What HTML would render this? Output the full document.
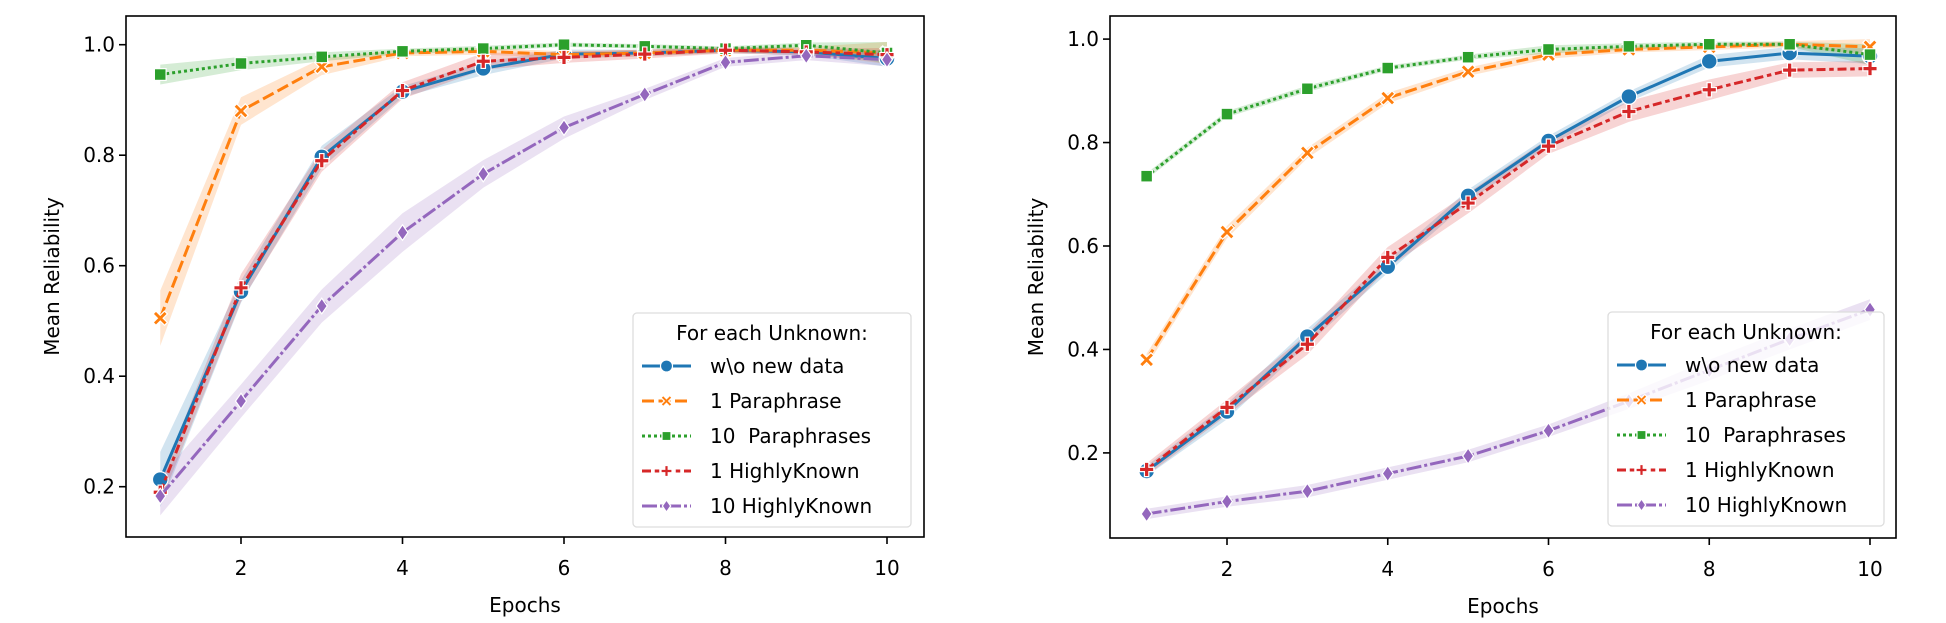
<!DOCTYPE html>
<html><head><meta charset="utf-8"><style>
body{margin:0;background:#fff;}
svg{display:block;font-family:"DejaVu Sans","Liberation Sans",sans-serif;}
text{white-space:pre;}
</style></head><body>
<svg id="s" width="1946" height="623" xmlns="http://www.w3.org/2000/svg"></svg>
<script>
const C=['#1f77b4','#ff7f0e','#2ca02c','#d62728','#9467bd'];
const DASH=['', '12,4.5','3,3','9,3.75,4.5,3.75','15,3,3,3'];
const names=['w\\o new data','1 Paraphrase','10\u00a0 Paraphrases','1 HighlyKnown','10 HighlyKnown'];
const L={fx0:126,fx1:924,fy0:16,fy1:537,x2:241,x10:887,y10:44.7,y02:486.7,leg:[633,911,313,527],ylab:52,
data:[[0.213,0.553,0.797,0.915,0.957,0.983,0.985,0.99,0.987,0.975],
[0.505,0.88,0.96,0.985,0.988,0.982,0.985,0.99,0.99,0.985],
[0.946,0.966,0.978,0.988,0.993,1.0,0.997,0.993,0.999,0.985],
[0.19,0.56,0.79,0.917,0.97,0.977,0.983,0.99,0.987,0.982],
[0.183,0.355,0.527,0.66,0.766,0.85,0.91,0.968,0.98,0.973]],
band:[[0.05,0.02,0.02,0.01,0.012,0.008,0.006,0.005,0.006,0.015],
[0.05,0.025,0.015,0.006,0.006,0.006,0.006,0.005,0.006,0.02],
[0.018,0.012,0.008,0.005,0.005,0.004,0.004,0.004,0.005,0.02],
[0.02,0.025,0.02,0.015,0.015,0.01,0.008,0.006,0.006,0.012],
[0.035,0.03,0.03,0.035,0.025,0.02,0.01,0.008,0.008,0.012]]};
const R={fx0:1110,fx1:1896,fy0:16,fy1:538,x2:1227,x10:1870,y10:39.1,y02:452.9,leg:[1608,1884,312,526],ylab:1036,
data:[[0.165,0.28,0.425,0.56,0.697,0.803,0.889,0.957,0.973,0.967],
[0.38,0.627,0.78,0.886,0.937,0.97,0.98,0.985,0.99,0.985],
[0.735,0.855,0.904,0.944,0.965,0.98,0.986,0.99,0.99,0.97],
[0.168,0.288,0.41,0.578,0.683,0.793,0.86,0.902,0.94,0.943],
[0.082,0.106,0.126,0.16,0.194,0.243,0.3,0.36,0.42,0.477]],
band:[[0.01,0.015,0.015,0.012,0.012,0.01,0.01,0.012,0.012,0.015],
[0.012,0.012,0.01,0.01,0.008,0.008,0.006,0.006,0.006,0.015],
[0.006,0.006,0.006,0.005,0.005,0.008,0.006,0.005,0.005,0.02],
[0.012,0.015,0.02,0.02,0.02,0.015,0.02,0.02,0.015,0.015],
[0.01,0.01,0.012,0.012,0.012,0.012,0.015,0.02,0.02,0.02]]};
function marker(i,x,y,s){
 const st=`fill="${C[i]}" stroke="#fff" stroke-width="1.2"`;
 if(i==0)return `<circle cx="${x}" cy="${y}" r="${s*0.6}" ${st}/>`;
 if(i==1){const a=s*0.55,w=s*0.22;return `<path d="M${x-a} ${y-a+w}L${x-a+w} ${y-a}L${x} ${y-w}L${x+a-w} ${y-a}L${x+a} ${y-a+w}L${x+w} ${y}L${x+a} ${y+a-w}L${x+a-w} ${y+a}L${x} ${y+w}L${x-a+w} ${y+a}L${x-a} ${y+a-w}L${x-w} ${y}Z" ${st}/>`;}
 if(i==2){const a=s*0.45;return `<rect x="${x-a}" y="${y-a}" width="${2*a}" height="${2*a}" ${st}/>`;}
 if(i==3){const a=s*0.55,w=s*0.17;return `<path d="M${x-w} ${y-a}H${x+w}V${y-w}H${x+a}V${y+w}H${x+w}V${y+a}H${x-w}V${y+w}H${x-a}V${y-w}H${x-w}Z" ${st}/>`;}
 const a=s*0.6,b=s*0.42;return `<path d="M${x} ${y-a}L${x+b} ${y}L${x} ${y+a}L${x-b} ${y}Z" ${st}/>`;
}
function panel(P){
 const px=e=>P.x2+(e-2)*(P.x10-P.x2)/8;
 const py=v=>P.y02+(v-0.2)*(P.y10-P.y02)/0.8;
 let o='';
 o+=`<defs><clipPath id="c${P.fx0}"><rect x="${P.fx0}" y="${P.fy0}" width="${P.fx1-P.fx0}" height="${P.fy1-P.fy0}"/></clipPath></defs><g clip-path="url(#c${P.fx0})">`;
 for(let i=0;i<5;i++){
  let up=[],dn=[];
  for(let k=0;k<10;k++){up.push(px(k+1)+','+py(P.data[i][k]+P.band[i][k]));dn.unshift(px(k+1)+','+py(P.data[i][k]-P.band[i][k]));}
  o+=`<polygon points="${up.concat(dn).join(' ')}" fill="${C[i]}" fill-opacity="0.2"/>`;
 }
 for(let i=0;i<5;i++){
  const pts=P.data[i].map((v,k)=>px(k+1)+','+py(v)).join(' ');
  o+=`<polyline points="${pts}" fill="none" stroke="${C[i]}" stroke-width="3" ${DASH[i]?`stroke-dasharray="${DASH[i]}"`:''}/>`;
  P.data[i].forEach((v,k)=>{o+=marker(i,px(k+1),py(v),13);});
 }
 o+='</g>';
 o+=`<rect x="${P.fx0}" y="${P.fy0}" width="${P.fx1-P.fx0}" height="${P.fy1-P.fy0}" fill="none" stroke="#000" stroke-width="1.6"/>`;
 for(let e=2;e<=10;e+=2){const x=px(e);o+=`<line x1="${x}" y1="${P.fy1}" x2="${x}" y2="${P.fy1+7}" stroke="#000" stroke-width="1.6"/><text x="${x}" y="${P.fy1+38}" font-size="20" text-anchor="middle">${e}</text>`;}
 for(let v of [0.2,0.4,0.6,0.8,1.0]){const y=py(v);o+=`<line x1="${P.fx0-7}" y1="${y}" x2="${P.fx0}" y2="${y}" stroke="#000" stroke-width="1.6"/><text x="${P.fx0-11}" y="${y+7}" font-size="20" text-anchor="end">${v.toFixed(1)}</text>`;}
 o+=`<text x="${(P.fx0+P.fx1)/2}" y="${P.fy1+75}" font-size="20" text-anchor="middle">Epochs</text>`;
 o+=`<text transform="translate(${P.ylab+7},${(P.fy0+P.fy1)/2}) rotate(-90)" font-size="20" text-anchor="middle">Mean Reliability</text>`;
 const [l0,l1,t0,t1]=P.leg;
 o+=`<rect x="${l0}" y="${t0}" width="${l1-l0}" height="${t1-t0}" rx="4" fill="#fff" fill-opacity="0.8" stroke="#ddd" stroke-width="1.3"/>`;
 o+=`<text x="${(l0+l1)/2}" y="${t0+27}" font-size="20" text-anchor="middle">For each Unknown:</text>`;
 for(let i=0;i<5;i++){const y=t0+53+i*35;
  o+=`<line x1="${l0+9}" y1="${y}" x2="${l0+58}" y2="${y}" stroke="${C[i]}" stroke-width="3" ${DASH[i]?`stroke-dasharray="${DASH[i]}"`:''}/>`;
  o+=marker(i,l0+33.5,y,10);
  o+=`<text x="${l0+77}" y="${y+7}" font-size="20">${names[i]}</text>`;}
 return o;
}
document.getElementById('s').innerHTML=panel(L)+panel(R);
</script>
</body></html>
